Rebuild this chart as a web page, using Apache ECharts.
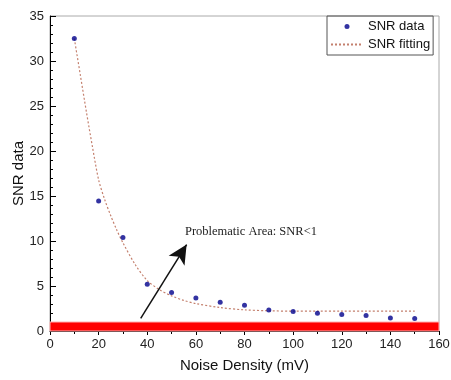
<!DOCTYPE html>
<html>
<head>
<meta charset="utf-8">
<script src="https://cdn.jsdelivr.net/npm/echarts@6/dist/echarts.min.js"></script>
<style>html,body{margin:0;padding:0;background:#fff}#c{width:451px;height:380px}</style>
</head>
<body>
<div id="c"></div>
<script>
// Measured SNR data
const noiseX = [10, 20, 30, 40, 50, 60, 70, 80, 90, 100, 110, 120, 130, 140, 150];
const snrData = [32.5, 14.45, 10.4, 5.2, 4.28, 3.68, 3.2, 2.86, 2.34, 2.16, 1.97, 1.83, 1.72, 1.45, 1.38];
// Fitting curve
const fitX = [10, 12.5, 15, 17.5, 20, 22.5, 25, 27.5, 30, 35, 40, 45, 50, 55, 60, 70, 80, 90, 100, 110, 120, 130, 140, 150];
const fitY = [32.5, 28.4, 24.3, 20.4, 16.8, 14.6, 12.8, 11.2, 9.8, 7.4, 5.6, 4.6, 3.9, 3.4, 3.05, 2.6, 2.35, 2.25, 2.2, 2.2, 2.2, 2.2, 2.2, 2.2];
// Problem band and annotation
const bandRange = [[0, 0], [160, 1]];
const arrowFrom = [37.3, 1.4];
const arrowTo = [56.2, 9.6];
const noteCoord = [55.5, 11.05];
const noteText = 'Problematic Area: SNR<1';
const xTicks = {min: 0, max: 160, interval: 20};
const yTicks = {min: 0, max: 35, interval: 5};

const chart = echarts.init(document.getElementById('c'));
const font = 'Liberation Sans, Arial, sans-serif';
chart.setOption({
  animation: false,
  backgroundColor: '#fff',
  grid: {left: 50, right: 12, top: 16, bottom: 49, show: true, borderColor: '#aaa', borderWidth: 1,
    outerBoundsMode: 'none', containLabel: false},
  legend: {
    orient: 'vertical', left: 327, top: 16,
    padding: [3, 3, 3, 3], itemGap: 3,
    itemWidth: 32, itemHeight: 5,
    borderColor: '#555', borderWidth: 1,
    textStyle: {fontFamily: font, fontSize: 13, color: '#111', lineHeight: 15},
    data: [
      {name: 'SNR data', icon: 'circle'},
      {name: 'SNR fitting', itemStyle: {opacity: 0}}
    ]
  },
  xAxis: {
    type: 'value', min: xTicks.min, max: xTicks.max, interval: xTicks.interval,
    name: 'Noise Density (mV)', nameLocation: 'middle', nameGap: 27, nameMoveOverlap: false,
    nameTextStyle: {fontFamily: font, fontSize: 15, color: '#111'},
    axisLine: {lineStyle: {color: '#000', width: 1}},
    axisTick: {inside: false, length: 4, lineStyle: {color: '#000'}},
    minorTick: {show: true, splitNumber: 2, length: 3, lineStyle: {color: '#000'}},
    axisLabel: {fontFamily: font, fontSize: 13, color: '#222', margin: 7},
    splitLine: {show: false}
  },
  yAxis: {
    type: 'value', min: yTicks.min, max: yTicks.max, interval: yTicks.interval,
    name: 'SNR data', nameLocation: 'middle', nameGap: 24, nameMoveOverlap: false,
    nameTextStyle: {fontFamily: font, fontSize: 15, color: '#111'},
    axisLine: {show: true, lineStyle: {color: '#000', width: 1}},
    axisTick: {inside: true, length: 6, lineStyle: {color: '#000'}},
    minorTick: {show: true, splitNumber: 5, length: 3, lineStyle: {color: '#000'}},
    axisLabel: {fontFamily: font, fontSize: 13, color: '#222', margin: 6},
    splitLine: {show: false}
  },
  series: [
    {
      name: 'band', type: 'line', data: [], silent: true,
      markArea: {
        silent: true,
        itemStyle: {color: '#ff0000', borderColor: '#ffb0b0', borderWidth: 1},
        data: [[{coord: bandRange[0]}, {coord: bandRange[1]}]]
      },
      markLine: {
        silent: true, symbol: ['none', 'arrow'], symbolSize: [0, 16],
        lineStyle: {color: '#111', width: 1.5, type: 'solid'},
        label: {show: false},
        data: [[{coord: arrowFrom, symbol: 'none'}, {coord: arrowTo, symbol: 'arrow', symbolSize: [14, 19]}]]
      },
      markPoint: {
        silent: true, symbol: 'circle', symbolSize: 0,
        label: {show: true, position: [0, 0], align: 'left', verticalAlign: 'middle',
          formatter: noteText, fontFamily: 'Liberation Serif, Times New Roman, serif', fontSize: 12.5, color: '#222'},
        data: [{coord: noteCoord}]
      }
    },
    {
      name: 'SNR fitting', type: 'line', showSymbol: false, symbol: 'none',
      data: fitX.map((x, i) => [x, fitY[i]]),
      smooth: 0.3,
      lineStyle: {color: '#c4806e', width: 1.2, type: [2, 2]},
      itemStyle: {color: '#c4806e'},
      z: 3
    },
    {
      name: 'SNR data', type: 'scatter', symbolSize: 5,
      data: noiseX.map((x, i) => [x, snrData[i]]),
      itemStyle: {color: '#00008b'},
      z: 4
    }
  ]
});
</script>
</body>
</html>
